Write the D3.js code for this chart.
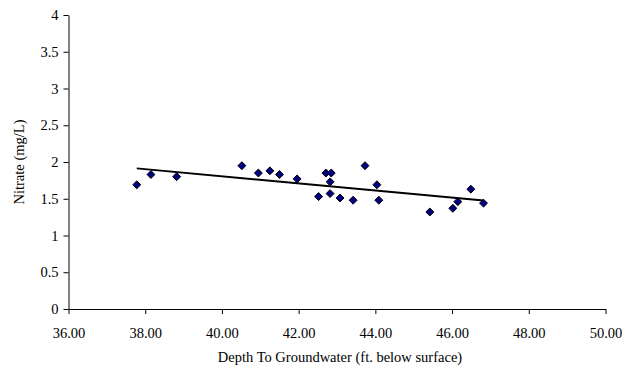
<!DOCTYPE html>
<html><head><meta charset="utf-8">
<script src="https://cdn.jsdelivr.net/npm/d3@7"></script>
<style>body{margin:0;background:#fff}svg{display:block}text{font-family:"Liberation Serif","Times New Roman",serif;fill:#000}</style>
</head><body><svg id="c" width="639" height="372"></svg>
<script>
const depth = [37.78,38.15,38.82,40.52,40.95,41.25,41.50,41.96,42.71,42.85,42.82,42.52,42.82,43.08,43.42,43.73,44.04,44.09,45.42,46.02,46.15,46.49,46.82];
const nitrate = [1.69,1.83,1.80,1.95,1.85,1.88,1.83,1.77,1.85,1.85,1.73,1.53,1.57,1.51,1.48,1.95,1.69,1.48,1.32,1.37,1.46,1.63,1.44];
const xTicks = [36,38,40,42,44,46,48,50];
const yTicks = [0,0.5,1,1.5,2,2.5,3,3.5,4];
const xTitle = "Depth To Groundwater (ft. below surface)";
const yTitle = "Nitrate (mg/L)";
const FS = 14.5;

const svg = d3.select("#c");
const x = d3.scaleLinear().domain([36,50]).range([68.5,605.5]);
const y = d3.scaleLinear().domain([0,4]).range([309,15]);

const xa = svg.append("g").attr("transform","translate(0,309)")
  .call(d3.axisBottom(x).tickValues(xTicks).tickFormat(d3.format(".2f")).tickSize(5).tickSizeOuter(0));
const ya = svg.append("g").attr("transform","translate(68.5,0)")
  .call(d3.axisLeft(y).tickValues(yTicks).tickFormat(d=>String(d)).tickSize(5).tickSizeOuter(0));
[xa,ya].forEach(a=>{a.attr("font-size",FS).attr("font-family",null);
  a.select(".domain").attr("stroke","#000");a.selectAll(".tick line").attr("stroke","#000");
  a.selectAll("text").attr("font-size",FS);});
xa.selectAll("text").attr("y",19).attr("dy","0.71em");
ya.selectAll("text").attr("x",-10);

// regression
const n = depth.length;
const mx = d3.mean(depth), my = d3.mean(nitrate);
let sxy=0,sxx=0;
for(let i=0;i<n;i++){sxy+=(depth[i]-mx)*(nitrate[i]-my);sxx+=(depth[i]-mx)**2;}
const b = sxy/sxx, a0 = my-b*mx;
const x0 = d3.min(depth), x1 = d3.max(depth);
svg.append("line").attr("x1",x(x0)).attr("y1",y(a0+b*x0)).attr("x2",x(x1)).attr("y2",y(a0+b*x1))
  .attr("stroke","#000").attr("stroke-width",2);

const sym = d3.symbol().type(d3.symbolDiamond2).size(40);
svg.append("g").selectAll("path").data(depth.map((d,i)=>[d,nitrate[i]])).join("path")
  .attr("d",sym).attr("transform",d=>`translate(${x(d[0])},${y(d[1])})`)
  .attr("fill","#000080").attr("stroke","#000").attr("stroke-width",1);

svg.append("text").attr("x",340).attr("y",362).attr("text-anchor","middle").attr("font-size",FS).text(xTitle);
svg.append("text").attr("transform","translate(24,162) rotate(-90)").attr("text-anchor","middle").attr("font-size",FS).text(yTitle);
</script></body></html>
